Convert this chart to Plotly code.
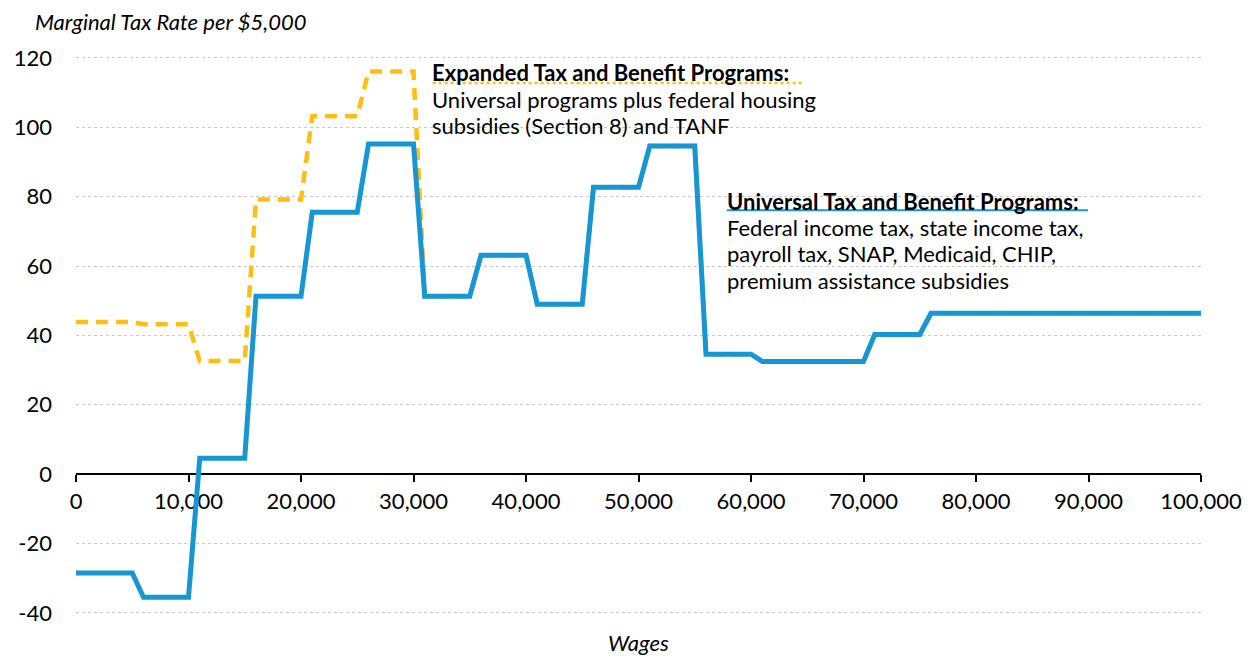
import plotly.graph_objects as go

# Wages (x) breakpoints and marginal tax rates per $5,000
wages = [0, 5000, 6000, 10000, 11000, 15000, 16000, 20000, 21000, 25000,
         26000, 30000, 31000, 35000, 36000, 40000, 41000, 45000, 46000, 50000,
         51000, 55000, 56000, 60000, 61000, 70000, 71000, 75000, 76000, 100000]

universal = [-28.5, -28.5, -35.5, -35.5, 4.6, 4.6, 51.3, 51.3, 75.5, 75.5,
             95.2, 95.2, 51.3, 51.3, 63.1, 63.1, 49.0, 49.0, 82.7, 82.7,
             94.6, 94.6, 34.6, 34.6, 32.5, 32.5, 40.3, 40.3, 46.4, 46.4]

expanded = [43.9, 43.9, 43.2, 43.2, 32.6, 32.6, 79.2, 79.2, 103.2, 103.2,
            116.1, 116.1, 51.3, 51.3, 63.1, 63.1, 49.0, 49.0, 82.7, 82.7,
            94.6, 94.6, 34.6, 34.6, 32.5, 32.5, 40.3, 40.3, 46.4, 46.4]

x_ticks = list(range(0, 100001, 10000))
y_ticks = [-40, -20, 0, 20, 40, 60, 80, 100, 120]
y_labels = ["-40", "-20", "0", "20", "40", "60", "80", "100", "120"]

expanded_lines = ["<b>Expanded Tax and Benefit Programs:</b>",
                  "Universal programs plus federal housing",
                  "subsidies (Section 8) and TANF"]
universal_lines = ["<b>Universal Tax and Benefit Programs:</b>",
                   "Federal income tax, state income tax,",
                   "payroll tax, SNAP, Medicaid, CHIP,",
                   "premium assistance subsidies"]

BLUE = "#1696d2"
YELLOW = "#fdbf11"
FONT = "Lato"
SIZE = 22

y_range = [-43.5, 122.3]

fig = go.Figure()
fig.add_trace(go.Scatter(
    x=wages, y=expanded, mode="lines",
    line=dict(color=YELLOW, width=4.5, dash="12px,8px"),
    hoverinfo="skip"
))
fig.add_trace(go.Scatter(
    x=wages, y=universal, mode="lines",
    line=dict(color=BLUE, width=5),
    hoverinfo="skip"
))

# label blocks, one annotation per line to keep tight line spacing
for i, txt in enumerate(expanded_lines):
    fig.add_annotation(
        x=31500, y=115.7 - i * 7.6, xref="x", yref="y",
        xanchor="left", yanchor="middle", showarrow=False, text=txt,
        font=dict(family=FONT, size=SIZE, color="#000000")
    )
fig.add_shape(type="line", x0=31700, x1=64500, y0=112.8, y1=112.8,
              xref="x", yref="y", line=dict(color=YELLOW, width=2.5, dash="dot"))

for i, txt in enumerate(universal_lines):
    fig.add_annotation(
        x=57650, y=78.7 - i * 7.6, xref="x", yref="y",
        xanchor="left", yanchor="middle", showarrow=False, text=txt,
        font=dict(family=FONT, size=SIZE, color="#000000")
    )
fig.add_shape(type="line", x0=57850, x1=89950, y0=76.1, y1=76.1,
              xref="x", yref="y", line=dict(color=BLUE, width=2))

# axis titles
fig.add_annotation(
    x=-0.0382, y=1.0487, xref="paper", yref="paper", xanchor="left",
    yanchor="middle", showarrow=False,
    text="<i>Marginal Tax Rate per $5,000</i>",
    font=dict(family=FONT, size=SIZE, color="#000000")
)
fig.add_annotation(
    x=0.4996, y=-0.031, xref="paper", yref="paper", xanchor="center",
    yanchor="middle", showarrow=False, text="<i>Wages</i>",
    font=dict(family=FONT, size=SIZE, color="#000000")
)

fig.update_layout(
    width=1244, height=648,
    paper_bgcolor="white", plot_bgcolor="white",
    showlegend=False,
    margin=dict(l=68, r=51, t=42, b=31, autoexpand=False),
    font=dict(family=FONT, size=SIZE, color="#000000"),
    xaxis=dict(
        range=[0, 100000], tickvals=x_ticks, tickformat=",d",
        showgrid=False, zeroline=False, automargin=False,
        showline=True, linecolor="#000000", linewidth=2,
        ticks="outside", ticklen=7, tickwidth=2, tickcolor="#000000",
        anchor="free", position=(0 - y_range[0]) / (y_range[1] - y_range[0]),
        layer="below traces",
        tickfont=dict(family=FONT, size=SIZE, color="#000000"),
    ),
    yaxis=dict(
        range=y_range, tickvals=y_ticks, ticktext=y_labels,
        showgrid=True, gridcolor="#c8c8c8", gridwidth=1, griddash="dot",
        zeroline=False, showline=False, ticks="", automargin=False,
        ticklabelstandoff=23,
        tickfont=dict(family=FONT, size=SIZE, color="#000000"),
    ),
)

fig.write_html("out.html")
